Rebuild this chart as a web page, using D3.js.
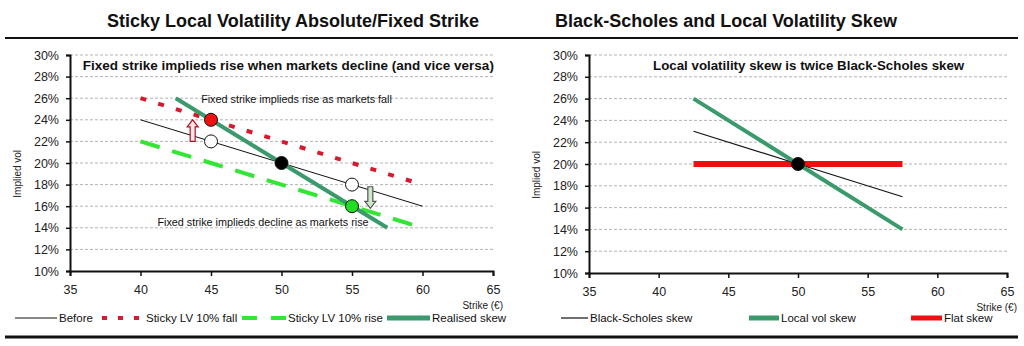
<!DOCTYPE html>
<html>
<head>
<meta charset="utf-8">
<script src="https://cdn.jsdelivr.net/npm/d3@7"></script>
<style>
  html, body { margin: 0; padding: 0; background: #fff; }
  svg { display: block; font-family: Arial, "Liberation Sans", sans-serif; }
</style>
</head>
<body>
<div id="chart"></div>
<script>
// Axis ticks
const xTicks = [35, 40, 45, 50, 55, 60, 65];
const yTicks = [10, 12, 14, 16, 18, 20, 22, 24, 26, 28, 30];

// Left panel: sticky local vol
const strikes = [40, 45, 50, 55, 60];
const before = [24, 22, 20, 18, 16];
const stickyFall = [26, 24, 22, 20, 18];
const stickyRise = [22, 20, 18, 16, 14];
const realisedStrikes = [42.5, 50, 57.5];
const realisedSkew = [26, 20, 14];

// Right panel: BS vs local vol
const skewStrikes = [42.5, 50, 57.5];
const bsSkew = [23, 20, 17];
const localVolSkew = [26, 20, 14];
const flatSkew = [20, 20, 20];

const width = 1024;
const height = 346;

const svg = d3.select('#chart').append('svg')
  .attr('width', width)
  .attr('height', height);

// Frame rules
svg.append('line')
  .attr('x1', 5).attr('x2', 1018).attr('y1', 38).attr('y2', 38)
  .attr('stroke', '#111').attr('stroke-width', 2);
svg.append('line')
  .attr('x1', 5).attr('x2', 1018).attr('y1', 337).attr('y2', 337)
  .attr('stroke', '#111').attr('stroke-width', 3);

const toPts = (xs, ys) => xs.map((x, i) => ({ x, y: ys[i] }));

function drawPanel(cfg) {
  const x = d3.scaleLinear().domain([35, 65]).range([cfg.left, cfg.right]);
  const y = d3.scaleLinear().domain([10, 30]).range([cfg.bottom, cfg.top]);
  const g = svg.append('g');

  // Title
  g.append('text')
    .attr('x', cfg.titleX).attr('y', 27)
    .attr('text-anchor', 'middle')
    .attr('font-size', 18).attr('font-weight', 'bold').attr('fill', '#111')
    .text(cfg.title);

  // Gridlines
  g.append('g').selectAll('line')
    .data(yTicks.slice(1))
    .join('line')
    .attr('x1', x(35)).attr('x2', x(65))
    .attr('y1', (d) => y(d)).attr('y2', (d) => y(d))
    .attr('stroke', '#b4b4b4').attr('stroke-width', 1)
    .attr('stroke-dasharray', '3,2');

  // Axes
  const yAxis = g.append('g')
    .attr('transform', `translate(${x(35)},0)`)
    .call(d3.axisLeft(y).tickValues(yTicks).tickFormat((d) => d + '%').tickSize(4).tickPadding(7));
  const xAxis = g.append('g')
    .attr('transform', `translate(0,${y(10)})`)
    .call(d3.axisBottom(x).tickValues(xTicks).tickSize(5).tickPadding(9));
  [yAxis, xAxis].forEach((a) => {
    a.select('.domain').attr('stroke', '#111').attr('stroke-width', 2);
    a.selectAll('.tick line').attr('stroke', '#111').attr('stroke-width', 1.5);
    a.selectAll('.tick text').attr('font-size', 12.5).attr('fill', '#222').attr('font-family', 'Arial, "Liberation Sans", sans-serif');
  });

  // Axis titles
  g.append('text')
    .attr('transform', `translate(${cfg.left - 49},${y(19)}) rotate(-90)`)
    .attr('text-anchor', 'middle')
    .attr('font-size', 10).attr('fill', '#222')
    .text('Implied vol');
  g.append('text')
    .attr('x', x(65) + 10).attr('y', y(10) + 38)
    .attr('text-anchor', 'end')
    .attr('font-size', 10).attr('fill', '#222')
    .text('Strike (€)');

  // Series
  const line = d3.line().x((d) => x(d.x)).y((d) => y(d.y));
  cfg.series.forEach((s) => {
    g.append('path')
      .datum(toPts(s.xs, s.ys))
      .attr('d', line)
      .attr('fill', 'none')
      .attr('stroke', s.color)
      .attr('stroke-width', s.width)
      .attr('stroke-dasharray', s.dash || null);
  });

  // Arrows (drawn before markers)
  (cfg.arrows || []).forEach((a) => {
    const cx = x(a.x);
    const y0 = y(a.from);
    const y1 = y(a.to);
    const dir = y1 < y0 ? -1 : 1;
    const head = 7 * dir;
    const pts = [
      [cx - 2.5, y0], [cx - 2.5, y1 - head], [cx - 5.5, y1 - head],
      [cx, y1], [cx + 5.5, y1 - head], [cx + 2.5, y1 - head], [cx + 2.5, y0],
    ];
    g.append('path')
      .attr('d', d3.line()(pts) + 'Z')
      .attr('fill', a.fill)
      .attr('stroke', a.stroke)
      .attr('stroke-width', 1.2);
  });

  // Markers
  g.append('g').selectAll('circle')
    .data(cfg.markers)
    .join('circle')
    .attr('cx', (d) => x(d.x)).attr('cy', (d) => y(d.y))
    .attr('r', 6.5)
    .attr('fill', (d) => d.fill)
    .attr('stroke', '#111').attr('stroke-width', 1);

  // Annotations
  cfg.notes.forEach((n) => {
    g.append('text')
      .attr('x', x(n.x)).attr('y', y(n.y))
      .attr('font-size', n.size)
      .attr('font-weight', n.bold ? 'bold' : 'normal')
      .attr('fill', '#111')
      .text(n.text);
  });

  // Legend
  cfg.legend.forEach((l) => {
    g.append('line')
      .attr('x1', l.x1).attr('x2', l.x2).attr('y1', 318).attr('y2', 318)
      .attr('stroke', l.color).attr('stroke-width', l.width)
      .attr('stroke-dasharray', l.dash || null);
    g.append('text')
      .attr('x', l.x2 + 2).attr('y', 322)
      .attr('font-size', 11.5).attr('fill', '#111')
      .text(l.label);
  });
}

const colRed = '#d8182c';
const colGreen = '#33e633';
const colTeal = '#3a9a6c';
const colFlat = '#ee1010';

drawPanel({
  left: 70, right: 493, top: 55, bottom: 271, titleX: 293,
  title: 'Sticky Local Volatility Absolute/Fixed Strike',
  series: [
    { xs: strikes, ys: before, color: '#111', width: 1 },
    { xs: strikes, ys: stickyFall, color: colRed, width: 4, dash: '6,12.5' },
    { xs: strikes, ys: stickyRise, color: colGreen, width: 4, dash: '20,13' },
    { xs: realisedStrikes, ys: realisedSkew, color: colTeal, width: 4 },
  ],
  arrows: [
    { x: 43.7, from: 22, to: 24, fill: '#fde8e8', stroke: '#b01020' },
    { x: 56.3, from: 17.8, to: 15.8, fill: '#cde8c8', stroke: '#555' },
  ],
  markers: [
    { x: 45, y: 22, fill: '#fff' },
    { x: 55, y: 18, fill: '#fff' },
    { x: 45, y: 24, fill: '#ee1111' },
    { x: 55, y: 16, fill: '#22dd22' },
    { x: 50, y: 20, fill: '#000' },
  ],
  notes: [
    { x: 35.9, y: 28.6, size: 13.5, bold: true, text: 'Fixed strike implieds rise when markets decline (and vice versa)' },
    { x: 44.3, y: 25.6, size: 10.8, text: 'Fixed strike implieds rise as markets fall' },
    { x: 41.2, y: 14.2, size: 10.8, text: 'Fixed strike implieds decline as markets rise' },
  ],
  legend: [
    { x1: 15, x2: 57, color: '#111', width: 1, label: 'Before' },
    { x1: 102, x2: 144, color: colRed, width: 4, dash: '5,11', label: 'Sticky LV 10% fall' },
    { x1: 242, x2: 286, color: colGreen, width: 4, dash: '15,14', label: 'Sticky LV 10% rise' },
    { x1: 387, x2: 430, color: colTeal, width: 5, label: 'Realised skew' },
  ],
});

drawPanel({
  left: 589, right: 1007, top: 55, bottom: 273, titleX: 726,
  title: 'Black-Scholes and Local Volatility Skew',
  series: [
    { xs: skewStrikes, ys: flatSkew, color: colFlat, width: 6 },
    { xs: skewStrikes, ys: bsSkew, color: '#111', width: 1.2 },
    { xs: skewStrikes, ys: localVolSkew, color: colTeal, width: 4 },
  ],
  markers: [
    { x: 50, y: 20, fill: '#000' },
  ],
  notes: [
    { x: 39.6, y: 28.6, size: 13.3, bold: true, text: 'Local volatility skew is twice Black-Scholes skew' },
  ],
  legend: [
    { x1: 561, x2: 588, color: '#111', width: 1.2, label: 'Black-Scholes skew' },
    { x1: 749, x2: 779, color: colTeal, width: 5, label: 'Local vol skew' },
    { x1: 911, x2: 942, color: colFlat, width: 5, label: 'Flat skew' },
  ],
});
</script>
</body>
</html>
